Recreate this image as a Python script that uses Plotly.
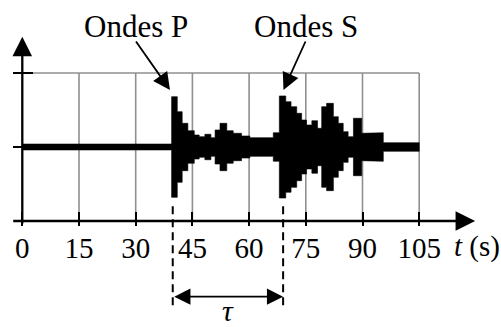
import plotly.graph_objects as go

W, H = 501, 327
FONT = "Liberation Serif"

# time axis ticks (s)
tick_times = [0, 15, 30, 45, 60, 75, 90, 105]
tick_labels = [str(t) for t in tick_times]

# seismogram envelope: start time of each segment (s) and its half-amplitude
seg_start = [0, 39.5, 41.0, 42.3, 43.8, 45.5, 46.8, 48.3, 49.9, 51.0,
             52.3, 54.1, 55.8, 58.0, 60.2, 66.4,
             68.0, 69.7, 71.1, 72.6, 73.9, 75.2, 76.6, 78.1, 79.2, 80.5,
             82.3, 83.6, 84.9, 86.2, 87.6, 89.8, 92.4, 95.5]
seg_amp = [0.04, 0.68, 0.477, 0.32, 0.22, 0.162, 0.139, 0.172, 0.126, 0.23,
           0.32, 0.22, 0.185, 0.149, 0.126, 0.193,
           0.69, 0.612, 0.545, 0.455, 0.365, 0.297, 0.355, 0.253, 0.545, 0.59,
           0.41, 0.32, 0.207, 0.139, 0.388, 0.185, 0.193, 0.058]
t_end = 105

# arrival times of the P and S waves (s)
t_p = 39.8
t_s = 69.0

# pixel layout: t=0 at x=22.3 px, 3.78 px per second; y=0 at 147 px, 74 px per unit
PX0, PXS = 22.3, 3.78
PY0, PYS = 147.0, 74.0
x_range = [-PX0 / PXS, (W - PX0) / PXS]
y_range = [(PY0 - H) / PYS, PY0 / PYS]
axis_pos = (H - (PY0 + PYS)) / H   # paper position of y = -1

fig = go.Figure()

# grid
gx, gy = [], []
for t in tick_times[1:]:
    gx += [t, t, None]
    gy += [-1, 1, None]
for level in (0, 1):
    gx += [0, t_end, None]
    gy += [level, level, None]
fig.add_trace(go.Scatter(x=gx, y=gy, mode="lines",
                         line=dict(color="#8f8f8f", width=1.6),
                         hoverinfo="skip", showlegend=False))

# signal envelope as a closed step polygon
seg_end = seg_start[1:] + [t_end]
ux, uy = [], []
for s, e, a in zip(seg_start, seg_end, seg_amp):
    ux += [s, e]
    uy += [a, a]
px = ux + ux[::-1]
py = uy + [-v for v in uy[::-1]]
fig.add_trace(go.Scatter(x=px, y=py, mode="lines", fill="toself",
                         fillcolor="black", line=dict(color="black", width=0.6),
                         hoverinfo="skip", showlegend=False))

# dashed markers of the arrival times
for t in (t_p, t_s):
    fig.add_trace(go.Scatter(x=[t, t], y=[-0.8, -2.14], mode="lines",
                             line=dict(color="black", width=2, dash="8px,5px"),
                             hoverinfo="skip", showlegend=False))

# overlay axes carry the inner half of the crossing ticks
fig.add_trace(go.Scatter(x=[None], y=[None], xaxis="x2", yaxis="y2",
                         hoverinfo="skip", showlegend=False))

ann = []
arrow = dict(text="", showarrow=True, axref="x", ayref="y", xref="x", yref="y",
             arrowcolor="black", standoff=0, startstandoff=0)
# time axis and amplitude axis
ann.append(dict(arrow, x=119.8, y=-1, ax=-2.8, ay=-1, arrowhead=2, arrowwidth=2.3, arrowsize=1.7))
ann.append(dict(arrow, x=0, y=1.49, ax=0, ay=-1.054, arrowhead=2, arrowwidth=2.3, arrowsize=1.7))
# wave labels and pointers
ann.append(dict(arrow, x=39.07, y=0.77, ax=29.8, ay=1.446, arrowhead=2, arrowwidth=1.8, arrowsize=1.9))
ann.append(dict(arrow, x=69.1, y=0.77, ax=75.1, ay=1.446, arrowhead=2, arrowwidth=1.8, arrowsize=1.9))
ann.append(dict(text="Ondes P", x=30.1, y=1.63, showarrow=False, xref="x", yref="y",
                font=dict(family=FONT, size=31, color="black")))
ann.append(dict(text="Ondes S", x=75.0, y=1.63, showarrow=False, xref="x", yref="y",
                font=dict(family=FONT, size=31, color="black")))
# delay between the two arrivals
ann.append(dict(arrow, x=t_s, y=-2.023, ax=t_p, ay=-2.023, arrowhead=2, arrowside="end+start",
                arrowwidth=1.8, arrowsize=1.8))
ann.append(dict(text="<i>τ</i>", x=(t_p + t_s) / 2, y=-2.21, showarrow=False, xref="x", yref="y",
                font=dict(family=FONT, size=30, color="black")))
ann.append(dict(text="<i>t</i> (s)", x=120.3, y=-1.34, showarrow=False, xref="x", yref="y",
                font=dict(family=FONT, size=29, color="black")))

common_x = dict(range=x_range, domain=[0, 1], anchor="free", position=axis_pos,
                tickvals=tick_times, showgrid=False, zeroline=False, showline=False,
                tickcolor="black", tickwidth=2)
common_y = dict(range=y_range, domain=[0, 1], anchor="free", position=PX0 / W,
                tickvals=[0, 1], showgrid=False, zeroline=False, showline=False,
                tickcolor="black", tickwidth=2, showticklabels=False)

fig.update_layout(
    width=W, height=H,
    margin=dict(l=0, r=0, t=0, b=0),
    paper_bgcolor="white", plot_bgcolor="white",
    showlegend=False,
    xaxis=dict(common_x, ticktext=tick_labels, ticks="outside", ticklen=4,
               ticklabelstandoff=-3,
               tickfont=dict(family=FONT, size=29, color="black")),
    xaxis2=dict(common_x, overlaying="x", ticks="inside", ticklen=9.5,
                showticklabels=False),
    yaxis=dict(common_y, ticks="outside", ticklen=9),
    yaxis2=dict(common_y, overlaying="y", ticks="inside", ticklen=9.5),
    annotations=ann,
)

fig.write_html("out.html")
